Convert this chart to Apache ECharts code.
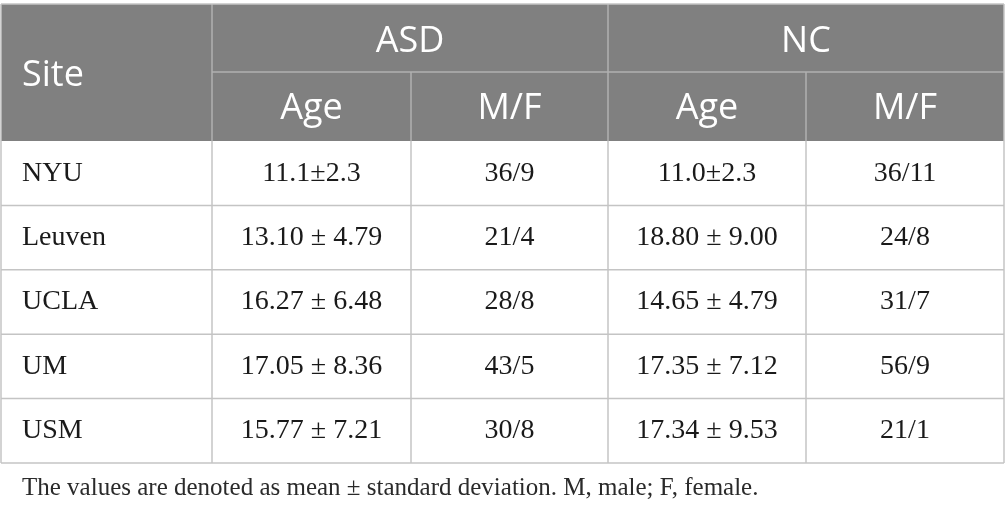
<!DOCTYPE html>
<html>
<head>
<meta charset="utf-8">
<script src="https://cdn.jsdelivr.net/npm/echarts@6/dist/echarts.min.js"></script>
<style>
  html, body { margin: 0; padding: 0; background: #fff; }
  #container { width: 1005px; height: 515px; }
</style>
</head>
<body>
<div id="container"></div>
<script>
var groupHeads = ['ASD', 'NC'];
var subHeads = ['Age', 'M/F', 'Age', 'M/F'];
var sites = ['NYU', 'Leuven', 'UCLA', 'UM', 'USM'];
var asdAge = ['11.1±2.3', '13.10 ± 4.79', '16.27 ± 6.48', '17.05 ± 8.36', '15.77 ± 7.21'];
var asdMF = ['36/9', '21/4', '28/8', '43/5', '30/8'];
var ncAge = ['11.0±2.3', '18.80 ± 9.00', '14.65 ± 4.79', '17.35 ± 7.12', '17.34 ± 9.53'];
var ncMF = ['36/11', '24/8', '31/7', '56/9', '21/1'];
var footnote = 'The values are denoted as mean ± standard deviation. M, male; F, female.';

var colX = [1, 212, 411, 608, 806, 1004];
var headTop = 4, headMid = 72, headBottom = 141;
var rowH = 64.4;

var dom = document.getElementById('container');
var myChart = echarts.init(dom);
var elements = [];

// header background
elements.push({
  type: 'rect',
  shape: { x: colX[0], y: headTop, width: colX[5] - colX[0], height: headBottom - headTop },
  style: { fill: '#808080' }
});

var headFont = '36px "Open Sans", sans-serif';
var bodyFont = '28px "Liberation Serif", serif';

function txt(x, y, s, font, color, align) {
  elements.push({
    type: 'text',
    x: x, y: y,
    style: { text: s, font: font, fill: color, align: align || 'center', verticalAlign: 'middle' }
  });
}
function line(x1, y1, x2, y2, color) {
  elements.push({
    type: 'line',
    shape: { x1: x1, y1: y1, x2: x2, y2: y2 },
    style: { stroke: color, lineWidth: 1.5 }
  });
}

txt(22, (headTop + headBottom) / 2 + 3, 'Site', headFont, '#fff', 'left');
txt((colX[1] + colX[3]) / 2, (headTop + headMid) / 2 + 4, groupHeads[0], headFont, '#fff');
txt((colX[3] + colX[5]) / 2, (headTop + headMid) / 2 + 4, groupHeads[1], headFont, '#fff');
subHeads.forEach(function (h, i) {
  txt((colX[i + 1] + colX[i + 2]) / 2, (headMid + headBottom) / 2 + 2, h, headFont, '#fff');
});

// header dividers
line(colX[1], headTop, colX[1], headBottom, '#b0b0b0');
line(colX[3], headTop, colX[3], headBottom, '#b0b0b0');
line(colX[2], headMid, colX[2], headBottom, '#b0b0b0');
line(colX[4], headMid, colX[4], headBottom, '#b0b0b0');
line(colX[1], headMid, colX[5], headMid, '#b0b0b0');

// body
var cols = [asdAge, asdMF, ncAge, ncMF];
sites.forEach(function (s, r) {
  var y0 = headBottom + r * rowH;
  var yc = y0 + rowH / 2;
  txt(22, yc, s, bodyFont, '#1a1a1a', 'left');
  cols.forEach(function (c, i) {
    txt((colX[i + 1] + colX[i + 2]) / 2, yc, c[r], bodyFont, '#1a1a1a');
  });
  line(colX[0], y0 + rowH, colX[5], y0 + rowH, '#c4c4c4');
});
var bodyBottom = headBottom + sites.length * rowH;
colX.forEach(function (x) {
  line(x, headBottom, x, bodyBottom, '#c4c4c4');
});
line(colX[0], headTop, colX[5], headTop, '#c4c4c4');
line(colX[0], headTop, colX[0], headBottom, '#c4c4c4');
line(colX[5], headTop, colX[5], headBottom, '#c4c4c4');

txt(22, 488, footnote, '25px "Liberation Serif", serif', '#2a2a2a', 'left');

var option = {
  animation: false,
  graphic: { elements: elements }
};
myChart.setOption(option, true);
window.addEventListener('resize', function () {
  myChart.resize();
});
</script>
</body>
</html>
